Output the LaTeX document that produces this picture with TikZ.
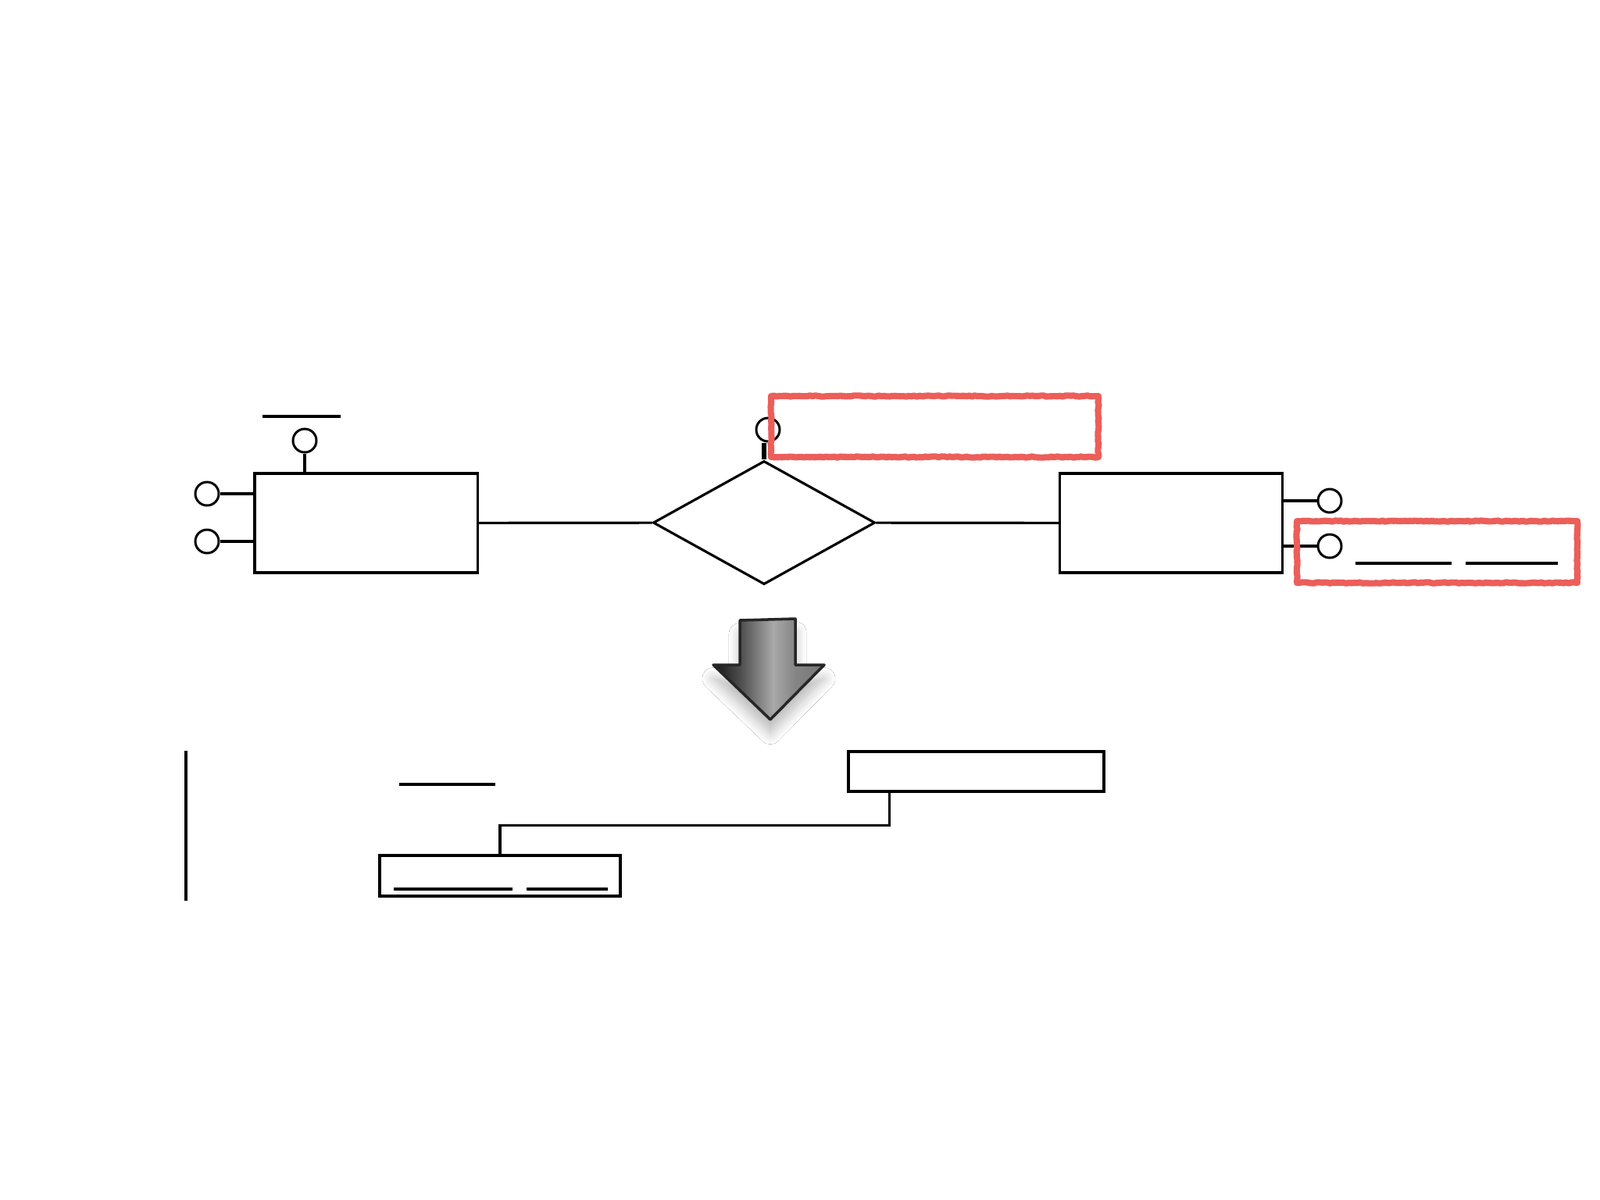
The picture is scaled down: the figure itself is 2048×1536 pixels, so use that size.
\documentclass[tikz,border=0pt]{standalone}
\usepackage{tikz}
\usetikzlibrary{shapes.geometric,shadows.blur,decorations.pathmorphing}
\definecolor{chalk}{RGB}{236,94,89}
\pgfdeclarehorizontalshading{arrowshade}{100bp}{color(0bp)=(black!92); color(25bp)=(black!92); color(37bp)=(black!70); color(52bp)=(black!34); color(62bp)=(black!48); color(75bp)=(black!54); color(100bp)=(black!54)}

\begin{document}
\begin{tikzpicture}[x=0.01cm,y=-0.01cm,
  entity/.style={draw,line width=0.9pt,minimum width=2.85cm,minimum height=1.27cm,inner sep=0pt},
  attr/.style={circle,draw,line width=0.85pt,minimum size=0.3cm,inner sep=0pt},
  rel/.style={diamond,draw,line width=0.9pt,minimum width=2.84cm,minimum height=1.58cm,inner sep=0pt},
  tablebox/.style={draw,line width=0.95pt,minimum width=#1,minimum height=0.51cm,inner sep=0pt},
  link/.style={line width=0.9pt},
  bar/.style={line width=1.15pt},
  chalkbox/.style={draw=chalk,line width=2.3pt,line join=round,decorate,
    decoration={random steps,segment length=1pt,amplitude=0.2pt}}]

\fill[white] (0,0) rectangle (2048,1536);
\useasboundingbox (0,0) rectangle (2048,1536);

\node [entity] (left) at (468.5,669.5) {};
\node [rel] (has) at (978,669) {};
\node [entity] (right) at (1499,669.5) {};

\draw[link] (left) -- (has);
\draw[link] (has) -- (right);

\node [attr] (a1) at (390,564) {};
\draw[link] (a1) -- (a1 |- left.north);
\draw[bar] (336,533) -- (436,533);

\foreach \n/\y in {a2/632, a3/693}{
 \node [attr] (\n) at (265,\y) {};
 \draw[link] (\n) -- (\n -| left.west);
}
\foreach \n/\y in {a4/641, a5/699}{
 \node [attr] (\n) at (1702,\y) {};
 \draw[link] (\n) -- (\n -| right.east);
}

\node [attr] (a6) at (983,550) {};
\draw[line width=1.6pt] (has.north) -- (has.north |- a6.south);

\draw[chalkbox] (987,507) rectangle (1406,585);
\draw[chalkbox] (1660,667) rectangle (2019,746);
\draw[bar] (1735,721) -- (1858,721);
\draw[bar] (1876,721) -- (1994,721);

% arrow
\shadedraw[shading=arrowshade,draw=black!85,line width=1pt,line join=round,
  blur shadow={shadow xshift=0pt,shadow yshift=-5pt,shadow blur radius=4pt,shadow blur steps=12,shadow opacity=28}]
  (947,794) -- (1018,792) -- (1018,851) -- (1055,851) -- (986,921)
  -- (913,851) -- (947,851) -- cycle;

\draw[bar] (238,961) -- (238,1153);
\draw[bar] (511,1004) -- (634,1004);

\node [tablebox=3.27cm] (tabB) at (1249.5,987.5) {};
\node [tablebox=3.08cm, minimum height=0.52cm] (tabA) at (640,1121) {};
\draw[link] ([xshift=0.54cm]tabB.south west) -- ++(0,42) -| (tabA.north);
\draw[bar] (504,1138) -- (656,1138);
\draw[bar] (674,1138) -- (778,1138);
\end{tikzpicture}
\end{document}
